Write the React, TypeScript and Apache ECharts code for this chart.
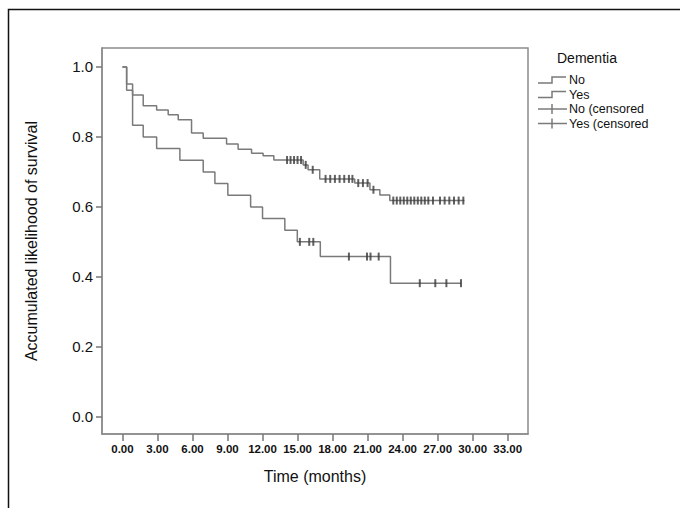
import React, { useEffect, useRef } from "react";
import * as echarts from "echarts";

// Kaplan-Meier step data (time in months, survival after the event at that time)
const noTimes = [0, 0.36, 0.87, 1.78, 2.93, 3.92, 4.78, 5.92, 6.92, 8.92, 9.91, 11.06, 12.05, 12.97, 15.48, 15.9, 16.9, 19.9, 21.2, 22.05, 22.9, 29.3];
const noSurv = [1.0, 0.951, 0.92, 0.889, 0.877, 0.863, 0.849, 0.811, 0.796, 0.78, 0.765, 0.753, 0.746, 0.734, 0.72, 0.706, 0.68, 0.668, 0.649, 0.634, 0.618, 0.618];
const noCensored = [14.1, 14.4, 14.7, 15.0, 15.3, 15.7, 16.3, 17.4, 17.8, 18.2, 18.6, 19.0, 19.4, 19.7, 20.2, 20.6, 21.0, 21.5, 23.2, 23.5, 23.8, 24.1, 24.4, 24.7, 25.0, 25.3, 25.6, 25.9, 26.2, 26.6, 27.2, 27.6, 28.0, 28.4, 28.8, 29.2];

const yesTimes = [0, 0.36, 0.87, 1.78, 2.93, 4.92, 6.92, 7.92, 9.03, 10.98, 12.0, 13.91, 14.98, 16.95, 22.96, 29.0];
const yesSurv = [1.0, 0.933, 0.833, 0.8, 0.767, 0.733, 0.7, 0.667, 0.633, 0.6, 0.567, 0.533, 0.5, 0.458, 0.382, 0.382];
const yesCensored = [15.2, 16.0, 16.35, 19.4, 20.95, 21.25, 21.95, 25.47, 26.8, 27.75, 29.0];

const xTicks = [0, 3, 6, 9, 12, 15, 18, 21, 24, 27, 30, 33];
const yTicks = [0, 0.2, 0.4, 0.6, 0.8, 1.0];

const legendTitle = "Dementia";
const legendLabels = ["No", "Yes", "No (censored", "Yes (censored"];

const FONT = "'Liberation Sans', Arial, sans-serif";
const LINE = "#7a7a7a";
const MARK = "#3a3a3a";

function survAt(times: number[], surv: number[], t: number) {
  let s = surv[0];
  for (let i = 0; i < times.length; i++) {
    if (times[i] <= t) s = surv[i];
  }
  return s;
}

export default function App() {
  const ref = useRef<HTMLDivElement>(null);
  useEffect(() => {
    if (!ref.current) return;
    const chart = echarts.init(ref.current, null, { renderer: "svg" });
    const stepIcon = (y: number) => [
      [538, y + 3],
      [552, y + 3],
      [552, y - 3],
      [566, y - 3],
    ];
    const legendRows = [80, 94.5, 109, 123.5];
    const graphics: any[] = [
      {
        type: "rect",
        shape: { x: 8.5, y: 9.5, width: 720, height: 620 },
        style: { fill: "none", stroke: "#111", lineWidth: 1.5 },
        silent: true,
      },
      {
        type: "text",
        x: 557,
        y: 58,
        style: { text: legendTitle, font: `14px ${FONT}`, fill: "#111", textVerticalAlign: "middle" },
      },
    ];
    legendRows.forEach((y, i) => {
      if (i < 2) {
        graphics.push({
          type: "polyline",
          shape: { points: stepIcon(y) },
          style: { stroke: LINE, lineWidth: 1.5, fill: "none" },
        });
      } else {
        graphics.push({
          type: "line",
          shape: { x1: 538, y1: y, x2: 567, y2: y },
          style: { stroke: LINE, lineWidth: 1.5 },
        });
        graphics.push({
          type: "line",
          shape: { x1: 552, y1: y - 5, x2: 552, y2: y + 5 },
          style: { stroke: LINE, lineWidth: 1.5 },
        });
      }
      graphics.push({
        type: "text",
        x: 569,
        y: y,
        style: {
          text: legendLabels[i],
          font: `12.5px ${FONT}`,
          lineHeight: 12,
          fill: "#111",
          textVerticalAlign: "middle",
        },
      });
    });

    const noLine = noTimes.map((t, i) => [t, noSurv[i]]);
    const yesLine = yesTimes.map((t, i) => [t, yesSurv[i]]);
    const noCens = noCensored.map((t) => [t, survAt(noTimes, noSurv, t)]);
    const yesCens = yesCensored.map((t) => [t, survAt(yesTimes, yesSurv, t)]);

    chart.setOption({
      animation: false,
      backgroundColor: "#fff",
      grid: {
        left: 102,
        top: 48,
        right: 152,
        bottom: 74,
        show: true,
        borderColor: "#8c8c8c",
        borderWidth: 1.5,
        backgroundColor: "#fff",
      },
      xAxis: {
        type: "value",
        min: -1.75,
        max: 34.74,
        name: "Time (months)",
        nameLocation: "middle",
        nameGap: 34,
        nameTextStyle: { fontFamily: FONT, fontSize: 16, color: "#111" },
        splitLine: { show: false },
        axisLine: { show: true, onZero: false, lineStyle: { color: "#8c8c8c", width: 1.5 } },
        axisTick: { show: true, length: 7, customValues: xTicks, lineStyle: { color: "#777", width: 1.5 } },
        axisLabel: {
          customValues: xTicks,
          margin: 9,
          fontFamily: FONT,
          fontSize: 11.5,
          fontWeight: "bold",
          color: "#111",
          formatter: (v: number) => v.toFixed(2),
        },
      },
      yAxis: {
        type: "value",
        min: -0.049,
        max: 1.054,
        name: "Accumulated likelihood of survival",
        nameLocation: "middle",
        nameGap: 63,
        nameTextStyle: { fontFamily: FONT, fontSize: 16, color: "#111" },
        splitLine: { show: false },
        axisLine: { show: true, onZero: false, lineStyle: { color: "#8c8c8c", width: 1.5 } },
        axisTick: { show: true, length: 6, customValues: yTicks, lineStyle: { color: "#777", width: 1.5 } },
        axisLabel: {
          customValues: yTicks,
          margin: 9,
          fontFamily: FONT,
          fontSize: 15,
          color: "#111",
          formatter: (v: number) => v.toFixed(1),
        },
      },
      series: [
        {
          name: "No",
          type: "line",
          step: "end",
          data: noLine,
          showSymbol: false,
          lineStyle: { color: LINE, width: 1.5 },
          z: 2,
        },
        {
          name: "Yes",
          type: "line",
          step: "end",
          data: yesLine,
          showSymbol: false,
          lineStyle: { color: LINE, width: 1.5 },
          z: 2,
        },
        {
          name: "No (censored",
          type: "scatter",
          data: noCens,
          symbol: "rect",
          symbolSize: [2, 8],
          itemStyle: { color: MARK },
          z: 3,
        },
        {
          name: "Yes (censored",
          type: "scatter",
          data: yesCens,
          symbol: "rect",
          symbolSize: [2, 8],
          itemStyle: { color: MARK },
          z: 3,
        },
      ],
      graphic: graphics,
    });
    return () => chart.dispose();
  }, []);
  return (
    <div
      ref={ref}
      style={{ position: "fixed", left: 0, top: 0, width: 680, height: 508, background: "#fff" }}
    />
  );
}
